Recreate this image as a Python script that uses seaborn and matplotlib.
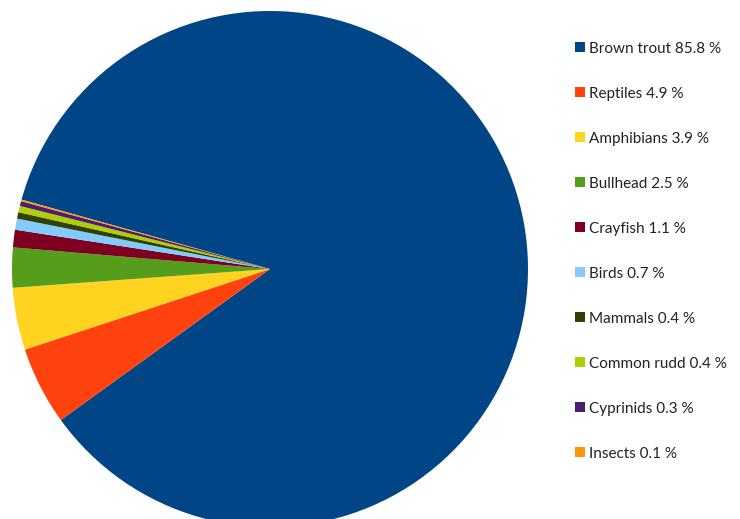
import matplotlib
matplotlib.use("Agg")
import matplotlib.pyplot as plt
from matplotlib.patches import Patch
import seaborn as sns

# Diet composition by share of total
categories = ["Brown trout", "Reptiles", "Amphibians", "Bullhead", "Crayfish",
              "Birds", "Mammals", "Common rudd", "Cyprinids", "Insects"]
shares = [85.8, 4.9, 3.9, 2.5, 1.1, 0.7, 0.4, 0.4, 0.3, 0.1]
colors = ["#004586", "#ff420e", "#ffd320", "#579d1c", "#7e0021",
          "#83caff", "#314004", "#aecf00", "#4b1f6f", "#ff950e"]

sns.set_theme(style="white")
plt.rcParams["font.family"] = ["Lato", "DejaVu Sans"]
palette = sns.color_palette(colors)

W, H = 740, 519
fig = plt.figure(figsize=(W / 100, H / 100), dpi=100)

cx, cy, r = 270, 519 - 269, 258
ax = fig.add_axes([(cx - r) / W, (cy - r) / H, 2 * r / W, 2 * r / H])
ax.pie(shares, colors=palette, startangle=164.4, counterclock=False,
       radius=1.0, wedgeprops=dict(linewidth=0, antialiased=True))
ax.set_xlim(-1, 1)
ax.set_ylim(-1, 1)
ax.set_aspect("equal")
ax.axis("off")

handles = [Patch(facecolor=c, edgecolor="none") for c in palette]
labels = [f"{n} {v} %" for n, v in zip(categories, shares)]
fig.legend(handles, labels, loc="upper left",
           bbox_to_anchor=(567 / W, 1 - 34 / H), frameon=False,
           fontsize=11, handlelength=0.65, handleheight=0.65,
           handletextpad=0.3, labelspacing=2.03, borderpad=0,
           labelcolor="#222222")

fig.savefig("out.png", dpi=100, facecolor="white")
